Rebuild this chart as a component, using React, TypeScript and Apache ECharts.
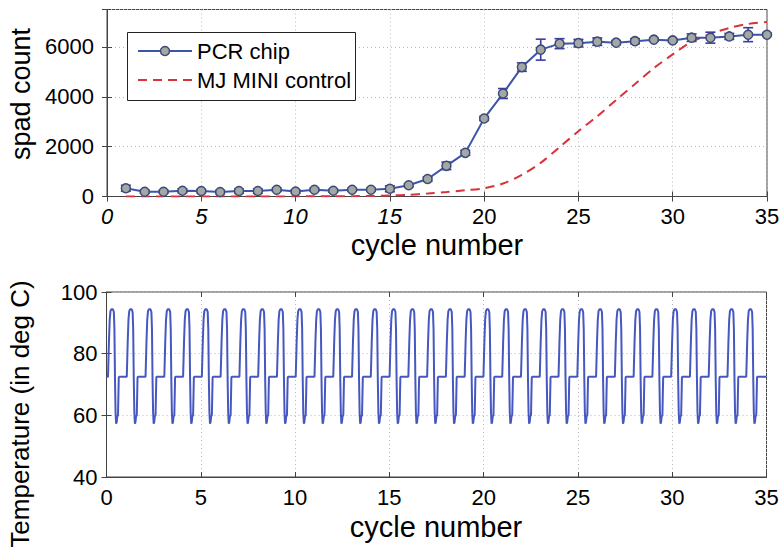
import React, { useEffect, useRef } from "react";
import * as echarts from "echarts";

// ---- Top panel data ----
const cycles = [1, 2, 3, 4, 5, 6, 7, 8, 9, 10, 11, 12, 13, 14, 15, 16, 17, 18, 19, 20, 21, 22, 23, 24, 25, 26, 27, 28, 29, 30, 31, 32, 33, 34, 35];
const pcrChip = [330, 190, 190, 230, 220, 180, 220, 220, 270, 200, 270, 230, 270, 270, 310, 450, 700, 1230, 1750, 3130, 4130, 5190, 5890, 6130, 6150, 6210, 6170, 6230, 6290, 6260, 6370, 6370, 6420, 6490, 6490];
const pcrErr = [120, 60, 60, 80, 60, 60, 80, 80, 60, 60, 60, 60, 60, 60, 120, 60, 80, 150, 100, 80, 200, 170, 420, 200, 150, 150, 80, 100, 60, 60, 150, 220, 120, 280, 60];
const mjMini = [0, 0, 0, 0, 0, 0, 0, 5, 5, 5, 10, 10, 15, 20, 40, 70, 120, 180, 250, 330, 520, 870, 1350, 1980, 2620, 3220, 3870, 4510, 5150, 5700, 6200, 6520, 6760, 6920, 7000];
const spadTicks = [0, 2000, 4000, 6000];
const cycleTicks = [0, 5, 10, 15, 20, 25, 30, 35];

// ---- Bottom panel: one thermal cycle ----
// [offset from the peak centre (cycles), temperature (deg C)]
const tempProfile: [number, number][] = [
  [-0.22, 72.5], [-0.17, 84], [-0.13, 91], [-0.09, 93.8], [-0.04, 94.4],
  [0.04, 94.4], [0.09, 93.5], [0.12, 88], [0.15, 72], [0.18, 61],
  [0.21, 57.3], [0.24, 57.8], [0.27, 59.6], [0.31, 60], [0.33, 66],
  [0.35, 72.3], [0.38, 72.5],
];
const firstPeak = 0.3;
const cyclePeriod = 0.9955;
const peakCount = 35;
const startTemp = 72.5;
const endTemp = 72.5;

const FONT = "'Liberation Sans', Arial, Helvetica, sans-serif";

function buildTemperature(): [number, number][] {
  const out: [number, number][] = [[0, startTemp]];
  for (let k = 0; k < peakCount; k++) {
    const c = firstPeak + k * cyclePeriod;
    for (const [dx, t] of tempProfile) out.push([c + dx, t]);
  }
  out.push([35, endTemp]);
  return out;
}

export default function App() {
  const ref = useRef<HTMLDivElement>(null);
  useEffect(() => {
    if (!ref.current) return;
    const chart = echarts.init(ref.current, null, { renderer: "svg" });
    const gridLine = { show: true, lineStyle: { type: [1, 3] as any, color: "#b8b8b8", width: 1 } };
    const tick = { show: true, inside: true, length: 5, lineStyle: { color: "#444" } };
    const axisColor = { lineStyle: { color: "#444", width: 1 } };
    const lbl = { color: "#000", fontSize: 22, fontFamily: FONT };

    const option: any = {
      animation: false,
      backgroundColor: "#fff",
      grid: [
        { left: 107, right: 17, top: 9.5, height: 187, show: true, borderColor: "#444", borderWidth: 1, backgroundColor: "transparent" },
        { left: 106.5, right: 17.5, top: 292, height: 185, show: true, borderColor: "#444", borderWidth: 1, backgroundColor: "transparent" },
      ],
      xAxis: [
        {
          gridIndex: 0, type: "value", min: 0, max: 35, interval: 5, position: "bottom",
          axisLine: { show: true, ...axisColor }, axisTick: tick, splitLine: gridLine,
          axisLabel: {
            ...lbl, margin: 9,
            formatter: (v: number) => (cycleTicks.includes(v) ? (v <= 15 ? `{i|${v}}` : `{n|${v}}`) : ""),
            rich: {
              i: { fontStyle: "italic", fontSize: 22, fontFamily: FONT, color: "#000" },
              n: { fontSize: 22, fontFamily: FONT, color: "#000" },
            },
          },
        },
        { gridIndex: 0, type: "value", min: 0, max: 35, interval: 5, position: "top", axisLine: { show: false }, axisTick: tick, axisLabel: { show: false }, splitLine: { show: false } },
        {
          gridIndex: 1, type: "value", min: 0, max: 35, interval: 5, position: "bottom",
          axisLine: { show: true, ...axisColor }, axisTick: tick, splitLine: gridLine,
          axisLabel: { ...lbl, margin: 9 },
        },
        { gridIndex: 1, type: "value", min: 0, max: 35, interval: 5, position: "top", axisLine: { show: false }, axisTick: tick, axisLabel: { show: false }, splitLine: { show: false } },
      ],
      yAxis: [
        {
          gridIndex: 0, type: "value", min: 0, max: 7500, interval: 2000, position: "left",
          axisLine: { show: true, ...axisColor }, axisTick: tick, splitLine: gridLine,
          axisLabel: { ...lbl, margin: 13, showMaxLabel: false, formatter: (v: number) => (spadTicks.includes(v) ? String(v) : "") },
        },
        { gridIndex: 0, type: "value", min: 0, max: 7500, interval: 2000, position: "right", axisLine: { show: false }, axisTick: tick, axisLabel: { show: false }, splitLine: { show: false } },
        {
          gridIndex: 1, type: "value", min: 40, max: 100, interval: 20, position: "left",
          axisLine: { show: true, ...axisColor }, axisTick: tick, splitLine: gridLine,
          axisLabel: { ...lbl, margin: 9 },
        },
        { gridIndex: 1, type: "value", min: 40, max: 100, interval: 20, position: "right", axisLine: { show: false }, axisTick: tick, axisLabel: { show: false }, splitLine: { show: false } },
      ],
      series: [
        {
          name: "MJ MINI control", type: "line", xAxisIndex: 0, yAxisIndex: 0,
          data: cycles.map((c, i) => [c, mjMini[i]]), smooth: 0.3, showSymbol: false,
          lineStyle: { color: "#d6333a", width: 2, type: [9, 6] }, z: 2,
        },
        {
          name: "err", type: "custom", xAxisIndex: 0, yAxisIndex: 0,
          data: cycles.map((c, i) => [c, pcrChip[i], pcrErr[i]]),
          encode: { x: 0, y: 1 }, z: 3,
          renderItem: (params: any, api: any) => {
            const x = api.value(0), y = api.value(1), e = api.value(2);
            const p = api.coord([x, y + e]);
            const q = api.coord([x, y - e]);
            const hw = 5;
            const st = { stroke: "#3a3aa8", lineWidth: 1.6 };
            return {
              type: "group",
              children: [
                { type: "line", shape: { x1: p[0], y1: p[1], x2: q[0], y2: q[1] }, style: st },
                { type: "line", shape: { x1: p[0] - hw, y1: p[1], x2: p[0] + hw, y2: p[1] }, style: st },
                { type: "line", shape: { x1: q[0] - hw, y1: q[1], x2: q[0] + hw, y2: q[1] }, style: st },
              ],
            };
          },
        },
        {
          name: "PCR chip", type: "line", xAxisIndex: 0, yAxisIndex: 0,
          data: cycles.map((c, i) => [c, pcrChip[i]]),
          symbol: "circle", symbolSize: 9, showSymbol: true,
          lineStyle: { color: "#3b56a8", width: 2 },
          itemStyle: { color: "#a4a8a4", borderColor: "#3d4a78", borderWidth: 1.5 }, z: 4,
        },
        {
          name: "Temperature", type: "line", xAxisIndex: 2, yAxisIndex: 2,
          data: buildTemperature(), showSymbol: false, smooth: false,
          lineStyle: { color: "#4658c0", width: 2 },
        },
      ],
      graphic: [
        { type: "rect", z: 100, shape: { x: 127.5, y: 32.5, width: 228, height: 68 }, style: { fill: "#fff", stroke: "#222", lineWidth: 1 } },
        { type: "line", z: 101, shape: { x1: 138, y1: 51, x2: 192, y2: 51 }, style: { stroke: "#3b56a8", lineWidth: 2 } },
        { type: "circle", z: 102, shape: { cx: 165, cy: 51, r: 4.5 }, style: { fill: "#a4a8a4", stroke: "#3d4a78", lineWidth: 1.5 } },
        { type: "text", z: 101, x: 197, y: 51, style: { text: "PCR chip", fontSize: 22, fontFamily: FONT, fill: "#000", align: "left", verticalAlign: "middle" } },
        { type: "line", z: 101, shape: { x1: 138, y1: 80, x2: 192, y2: 80 }, style: { stroke: "#d6333a", lineWidth: 2, lineDash: [9, 6] } },
        { type: "text", z: 101, x: 197, y: 80, style: { text: "MJ MINI control", fontSize: 22, fontFamily: FONT, fill: "#000", align: "left", verticalAlign: "middle" } },
        { type: "text", x: 437, y: 245, style: { text: "cycle number", fontSize: 29, fontFamily: FONT, fill: "#000", align: "center", verticalAlign: "middle" } },
        { type: "text", x: 436, y: 527, style: { text: "cycle number", fontSize: 29, fontFamily: FONT, fill: "#000", align: "center", verticalAlign: "middle" } },
        { type: "text", x: 21, y: 94, rotation: Math.PI / 2, style: { text: "spad count", fontSize: 27, fontFamily: FONT, fill: "#000", align: "center", verticalAlign: "middle" } },
        { type: "text", x: 20, y: 414, rotation: Math.PI / 2, style: { text: "Temperature (in deg C)", fontSize: 26, fontFamily: FONT, fill: "#000", align: "center", verticalAlign: "middle" } },
      ],
    };
    chart.setOption(option);
    return () => chart.dispose();
  }, []);
  return <div ref={ref} style={{ position: "fixed", left: 0, top: 0, width: 784, height: 547 }} />;
}
